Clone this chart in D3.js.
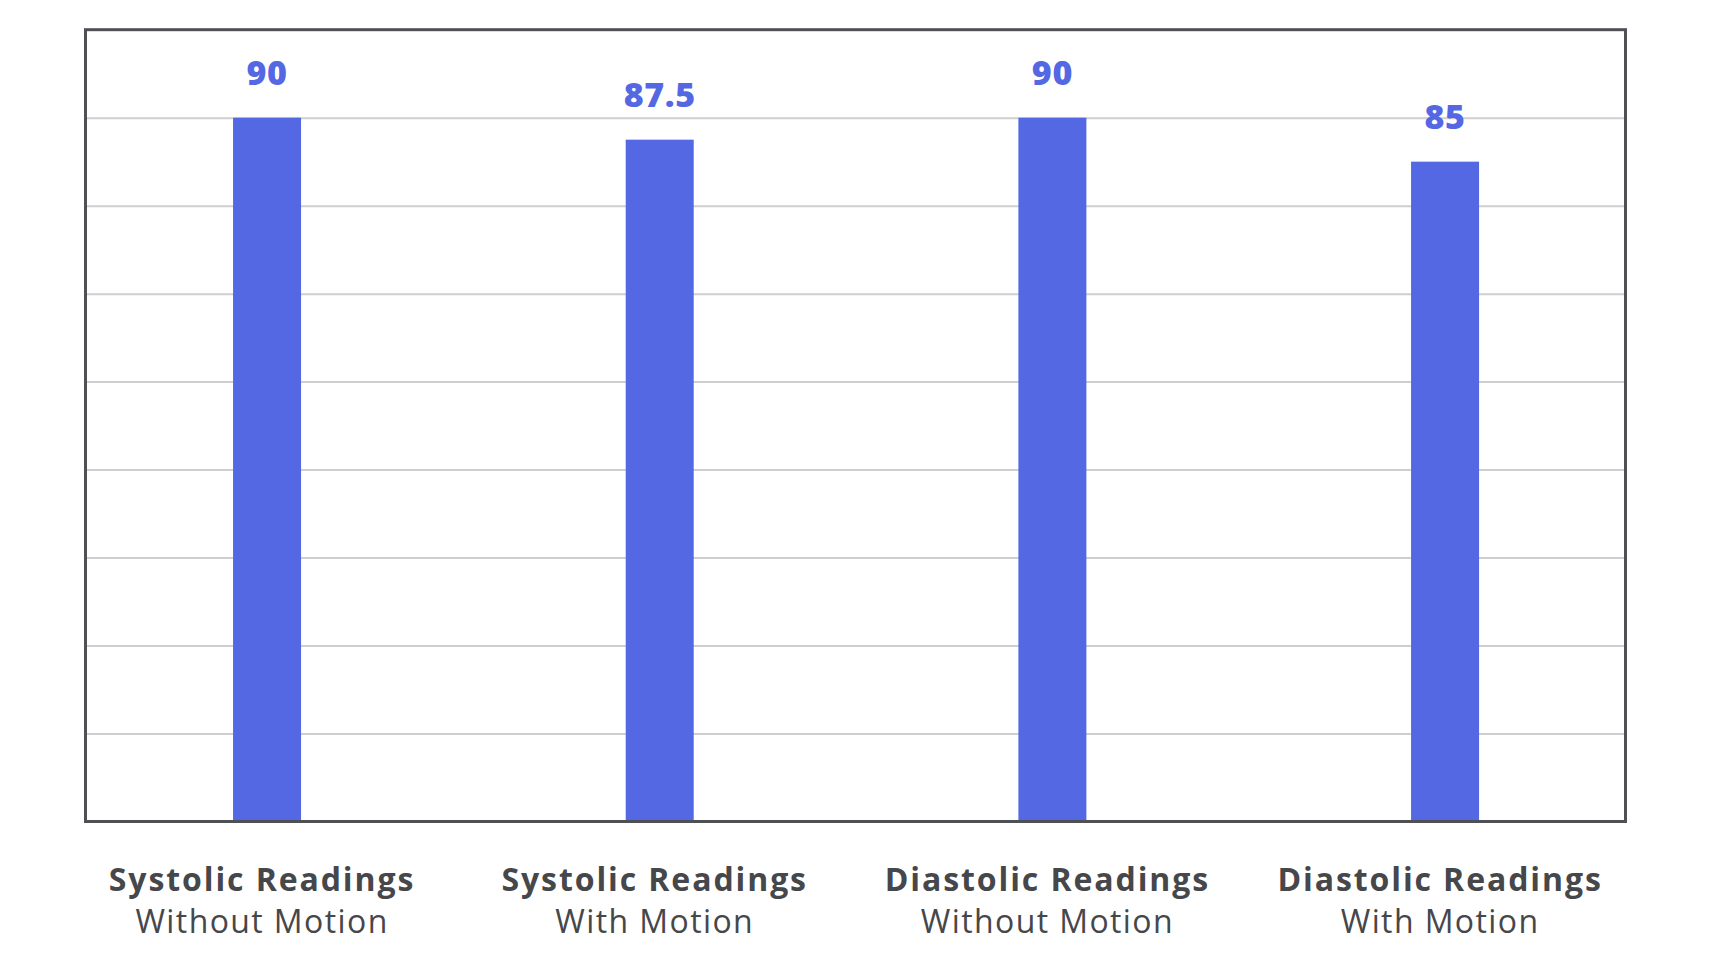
<!DOCTYPE html>
<html>
<head>
<meta charset="utf-8">
<script src="https://cdn.jsdelivr.net/npm/d3@7"></script>
<style>
  html, body { margin: 0; padding: 0; background: #fff; }
  svg { display: block; }
</style>
</head>
<body>
<svg id="chart"></svg>
<script>
const categories = ['Systolic Readings', 'Systolic Readings', 'Diastolic Readings', 'Diastolic Readings'];
const subtitles = ['Without Motion', 'With Motion', 'Without Motion', 'With Motion'];
const values = [90, 87.5, 90, 85];
const valueLabels = ['90', '87.5', '90', '85'];
const yTicks = [20, 30, 40, 50, 60, 70, 80, 90];

const width = 1712;
const height = 964;
const plot = { left: 85.5, right: 1625.5, top: 29.7, bottom: 821.5 };
const barColor = '#5468e3';
const textColor = '#46474b';
const font = '"Open Sans", Lato, sans-serif';

const svg = d3.select('#chart').attr('width', width).attr('height', height);

const x = d3
  .scaleBand()
  .domain(d3.range(values.length))
  .range([70.7, 1641.4]);
const barWidth = 68;

const y = d3
  .scaleLinear()
  .domain([10, 100])
  .range([plot.bottom, plot.top]);

// gridlines
svg
  .append('g')
  .attr('transform', `translate(${plot.left},0)`)
  .call(
    d3
      .axisLeft(y)
      .tickValues(yTicks)
      .tickSize(-(plot.right - plot.left))
      .tickFormat(''),
  )
  .call((g) => g.select('.domain').remove())
  .call((g) => g.selectAll('.tick line').attr('stroke', '#cfcfcf').attr('stroke-width', 2));

// bars
svg
  .append('g')
  .attr('fill', barColor)
  .selectAll('rect')
  .data(values)
  .join('rect')
  .attr('x', (_d, i) => x(i) + x.bandwidth() / 2 - barWidth / 2)
  .attr('y', (d) => y(d))
  .attr('width', barWidth)
  .attr('height', (d) => y(10) - y(d));

// value labels
svg
  .append('g')
  .selectAll('text')
  .data(values)
  .join('text')
  .attr('x', (_d, i) => x(i) + x.bandwidth() / 2)
  .attr('y', (d) => y(d) - 33)
  .attr('text-anchor', 'middle')
  .attr('fill', barColor)
  .attr('font-family', font)
  .attr('font-weight', 800)
  .attr('font-size', 34)
  .attr('letter-spacing', 0.6)
  .text((_d, i) => valueLabels[i]);

// frame
svg
  .append('rect')
  .attr('x', plot.left)
  .attr('y', plot.top)
  .attr('width', plot.right - plot.left)
  .attr('height', plot.bottom - plot.top)
  .attr('fill', 'none')
  .attr('stroke', '#4f5054')
  .attr('stroke-width', 3);

// category labels
const labels = svg
  .append('g')
  .attr('font-family', font)
  .attr('fill', textColor)
  .attr('text-anchor', 'middle')
  .selectAll('g')
  .data(categories)
  .join('g')
  .attr('transform', (_d, i) => `translate(${x(i) + x.bandwidth() / 2 - 5},0)`);

labels
  .append('text')
  .attr('y', 891)
  .attr('font-weight', 700)
  .attr('font-size', 32)
  .attr('letter-spacing', 1.9)
  .text((d) => d);

labels
  .append('text')
  .attr('y', 932.7)
  .attr('font-weight', 400)
  .attr('font-size', 32)
  .attr('letter-spacing', 1.4)
  .text((_d, i) => subtitles[i]);
</script>
</body>
</html>
